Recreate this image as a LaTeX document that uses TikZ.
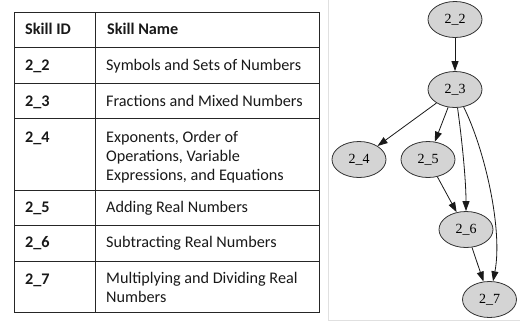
\documentclass[tikz,border=0pt]{standalone}
\usepackage{fontspec}
\setmainfont{Carlito}
\newfontfamily\gvfont{Liberation Serif}
\usetikzlibrary{arrows.meta,shapes.geometric}
\begin{document}
\begin{tikzpicture}[x=1pt,y=-1pt,
  cell/.style={anchor=base west, inner sep=0pt, text=black!90, font=\fontsize{16.2}{18.7}\selectfont, align=left},
  hcell/.style={cell, font=\fontsize{16.2}{18.7}\selectfont\bfseries},
  grid/.style={line width=1pt, black!85},
  skill/.style={ellipse, draw=black!80, fill=black!17, line width=0.8pt, minimum width=54pt, minimum height=36pt, inner sep=0pt, font=\gvfont\fontsize{14}{16}\selectfont},
  dep/.style={-{Triangle[length=10pt,width=7pt]}, line width=0.8pt, black!90}]
\useasboundingbox (0,0) rectangle (520,322);
\fill[white] (0,0) rectangle (520,322);
\draw[black!12, line width=0.8pt] (328.3,-5) rectangle (530,320.7);
% table
\draw[grid] (14,12.7) rectangle (319.3,312.5);
\draw[grid] (95.7,12.7) -- (95.7,312.5);
\foreach \y in {47.7,83,118,190.7,225,261} \draw[grid] (14,\y) -- (319.3,\y);
\node[hcell] (hid) at (25,34.5) {Skill ID};
\node[hcell] (hname) at (107,34.5) {Skill Name};
\node[hcell] (id22) at (25,70) {2\_2};
\node[cell] (nm22) at (106,70) {Symbols and Sets of Numbers};
\node[hcell] (id23) at (25,106) {2\_3};
\node[cell] (nm23) at (106,106) {Fractions and Mixed Numbers};
\node[hcell] (id24) at (25,142.7) {2\_4};
\node[cell] (nm24) at (106,180) {Exponents, Order of\\Operations, Variable\\Expressions, and Equations};
\node[hcell] (id25) at (25,212.7) {2\_5};
\node[cell] (nm25) at (106,212.7) {Adding Real Numbers};
\node[hcell] (id26) at (25,247.7) {2\_6};
\node[cell] (nm26) at (106,247.7) {Subtracting Real Numbers};
\node[hcell] (id27) at (25,284) {2\_7};
\node[cell] (nm27) at (106,302.5) {Multiplying and Dividing Real\\Numbers};
% graph
\node[skill] (n22) at (455,19.5) {2\_2};
\node[skill] (n23) at (455,89.5) {2\_3};
\node[skill] (n24) at (359,159.5) {2\_4};
\node[skill] (n25) at (428,159.5) {2\_5};
\node[skill] (n26) at (466,229.5) {2\_6};
\node[skill] (n27) at (489.5,299.5) {2\_7};
\draw[dep] (n22) -- (n23);
\draw[dep] (n23) -- (n24);
\draw[dep] (n23) -- (n25);
\draw[dep] (n23) .. controls (462,140) and (466,180) .. (n26);
\draw[dep] (n23) .. controls (485,150) and (503,230) .. (n27);
\draw[dep] (n25) -- (n26);
\draw[dep] (n26) -- (n27);
\end{tikzpicture}
\end{document}
